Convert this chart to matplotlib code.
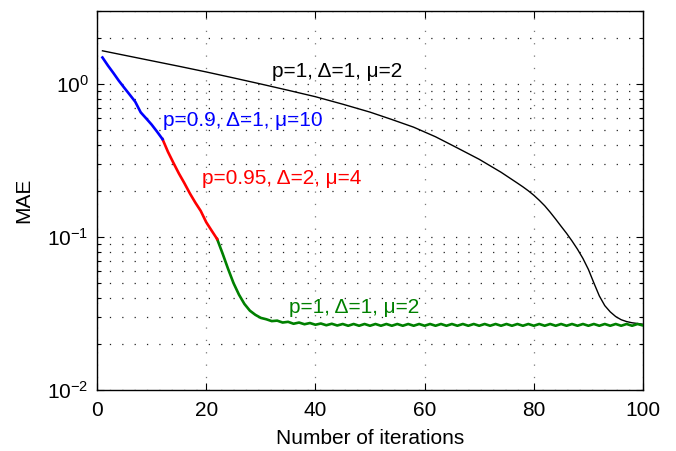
import matplotlib
matplotlib.use('Agg')
import matplotlib.pyplot as plt
from matplotlib.ticker import LogLocator, FixedLocator, FixedFormatter, NullFormatter

# ---------------- data ----------------
black_x = [1, 5, 10, 15, 20, 25, 30, 35, 40, 45, 50, 54, 58, 62, 66, 70, 74, 77, 78, 79, 80, 81, 82, 83,
           84, 85, 86, 87, 88, 89, 90, 91, 92, 93, 94, 95, 96, 97, 98, 99, 100]
black_y = [1.648, 1.542, 1.419, 1.306, 1.199, 1.096, 1.000, 0.910, 0.826, 0.738, 0.655, 0.586, 0.522,
           0.452, 0.382, 0.322, 0.265, 0.225, 0.2128, 0.2004, 0.1875, 0.1738, 0.160, 0.1452,
           0.1309, 0.1175, 0.1057, 0.0942, 0.0832, 0.0724, 0.0614, 0.0501, 0.0412, 0.0356, 0.0324,
           0.0302, 0.0288, 0.0280, 0.0275, 0.0272, 0.0269]

blue_x = [1, 2, 3, 4, 5, 6, 7, 8, 9, 10, 11, 12]
blue_y = [1.49, 1.32, 1.18, 1.05, 0.944, 0.851, 0.766, 0.653, 0.596, 0.543, 0.488, 0.436]

red_x = [12, 13, 14, 15, 16, 17, 18, 19, 20, 21, 22]
red_y = [0.436, 0.36, 0.305, 0.26, 0.225, 0.193, 0.168, 0.148, 0.125, 0.11, 0.097]

green_x = list(range(22, 101))
green_y = [0.097, 0.078, 0.062, 0.050, 0.042, 0.0365, 0.0330, 0.0310, 0.0296, 0.0290,
           0.0282, 0.0284, 0.0276, 0.0279, 0.0271, 0.0276, 0.0269, 0.0274, 0.0267, 0.0272,
           0.0265, 0.0271, 0.0264, 0.0270, 0.0263, 0.0270, 0.0263, 0.0270, 0.0263, 0.0270,
           0.0263, 0.0270, 0.0263, 0.0270, 0.0263, 0.0270, 0.0263, 0.0270, 0.0263, 0.0270,
           0.0263, 0.0270, 0.0263, 0.0270, 0.0263, 0.0270, 0.0263, 0.0270, 0.0263, 0.0270,
           0.0263, 0.0270, 0.0263, 0.0270, 0.0263, 0.0270, 0.0263, 0.0270, 0.0263, 0.0270,
           0.0263, 0.0270, 0.0263, 0.0270, 0.0263, 0.0270, 0.0263, 0.0270, 0.0263, 0.0270,
           0.0263, 0.0270, 0.0263, 0.0270, 0.0263, 0.0270, 0.0263, 0.0270, 0.0264]

labels = ["p=1, \u0394=1, \u03bc=2", "p=0.9, \u0394=1, \u03bc=10", "p=0.95, \u0394=2, \u03bc=4", "p=1, \u0394=1, \u03bc=2"]
label_x = [32.0, 12.1, 19.2, 35.2]
label_y = [1.2, 0.58, 0.243, 0.0344]

x_ticks = [0, 20, 40, 60, 80, 100]
y_ticks = [0.01, 0.1, 1.0]
y_ticklabels = [r'$10^{-2}$', r'$10^{-1}$', r'$10^{0}\enspace$']

# ---------------- style ----------------
plt.rcParams['font.family'] = ['Liberation Sans', 'DejaVu Sans']
plt.rcParams['mathtext.fontset'] = 'custom'
plt.rcParams['mathtext.rm'] = 'Liberation Sans'
plt.rcParams['mathtext.it'] = 'Liberation Sans:italic'
plt.rcParams['mathtext.bf'] = 'Liberation Sans:bold'
plt.rcParams['lines.scale_dashes'] = False

FS = 15
fig = plt.figure(figsize=(6.76, 4.51), dpi=100)
ax = fig.add_axes([97/676, 1 - 390/451, 546/676, 379/451])

green = '#008000'
ax.plot(black_x, black_y, color='k', lw=1.0, zorder=3)
ax.plot(green_x, green_y, color=green, lw=1.9, zorder=4)
ax.plot(red_x, red_y, color='#ff0000', lw=1.9, zorder=4)
ax.plot(blue_x, blue_y, color='#0000ff', lw=1.9, zorder=4)

colors = ['k', '#0000ff', '#ff0000', green]
for t, x, y, c in zip(labels, label_x, label_y, colors):
    ax.text(x, y, t, color=c, fontsize=FS, ha='left', va='center', zorder=5)

ax.set_yscale('log')
ax.set_xlim(0, 100)
ax.set_ylim(0.01, 3.0)

ax.xaxis.set_major_locator(FixedLocator(x_ticks))
ax.set_xticklabels([str(v) for v in x_ticks])
ax.yaxis.set_major_locator(FixedLocator(y_ticks))
ax.yaxis.set_major_formatter(FixedFormatter(y_ticklabels))
ax.yaxis.set_minor_locator(LogLocator(base=10, subs=range(2, 10), numticks=20))
ax.yaxis.set_minor_formatter(NullFormatter())

ax.tick_params(which='both', direction='in', top=True, right=True, labelsize=FS, width=0.8)
ax.tick_params(which='major', length=5)
ax.tick_params(which='minor', length=3)
ax.tick_params(axis='x', pad=8)
ax.tick_params(axis='y', pad=6)

gkw = dict(linestyle=(0, (0.9, 8.0)), linewidth=0.9)
ax.grid(True, axis='x', which='major', color='#777777', **gkw)
ax.grid(True, axis='y', which='both', color='#222222', **gkw)

for s in ax.spines.values():
    s.set_linewidth(1.0)
    s.set_color('k')

ax.set_xlabel('Number of iterations', fontsize=FS)
ax.set_ylabel('MAE', fontsize=FS)
ax.xaxis.set_label_coords(0.5, -(429 - 390) / 379)
ax.yaxis.set_label_coords(-(97 - 33) / 546, 0.5)

fig.savefig('out.png', dpi=100)
